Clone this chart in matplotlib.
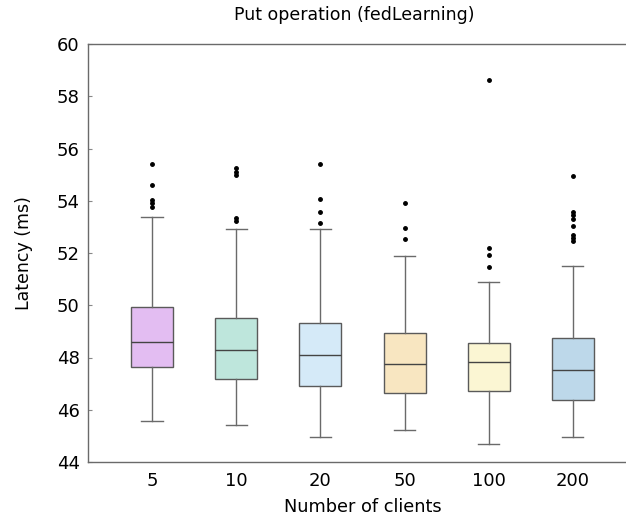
import matplotlib
matplotlib.use("Agg")
import matplotlib.pyplot as plt

categories = ["5", "10", "20", "50", "100", "200"]
q1 = [47.62, 47.16, 46.90, 46.65, 46.70, 46.36]
medians = [48.58, 48.27, 48.08, 47.74, 47.82, 47.51]
q3 = [49.92, 49.51, 49.32, 48.94, 48.56, 48.73]
whislo = [45.57, 45.40, 44.95, 45.21, 44.68, 44.97]
whishi = [53.37, 52.91, 52.91, 51.90, 50.90, 51.49]
fliers = [
    [55.39, 54.59, 54.03, 53.90, 53.77],
    [55.24, 55.11, 54.97, 53.34, 53.24],
    [55.41, 54.07, 53.56, 53.15],
    [53.93, 52.96, 52.54],
    [58.63, 52.19, 51.94, 51.46],
    [54.94, 53.58, 53.45, 53.30, 53.02, 52.68, 52.59, 52.45],
]
colors = ["#E3BDF2", "#BEE6DC", "#D5EAF8", "#F8E6C1", "#FBF6D3", "#BDD8EA"]

fig = plt.figure(figsize=(6.26, 5.17), dpi=100)
ax = fig.add_axes([88 / 626, 1 - 462 / 517, 1 - 88 / 626, (462 - 44) / 517])

stats = []
for i, c in enumerate(categories):
    stats.append(dict(label=c, q1=q1[i], med=medians[i], q3=q3[i],
                      whislo=whislo[i], whishi=whishi[i], fliers=fliers[i]))

bp = ax.bxp(stats, positions=range(len(categories)), widths=0.5,
            patch_artist=True, showfliers=True,
            boxprops=dict(edgecolor="#5a5a5a", linewidth=1.0),
            medianprops=dict(color="#444444", linewidth=1.0),
            whiskerprops=dict(color="#6a6a6a", linewidth=1.0),
            capprops=dict(color="#6a6a6a", linewidth=1.0),
            flierprops=dict(marker="o", markersize=2.5, markerfacecolor="black",
                            markeredgecolor="black", linestyle="none"))
for patch, col in zip(bp["boxes"], colors):
    patch.set_facecolor(col)

ax.set_xlim(-0.76, 5.63)
ax.set_ylim(44, 60)
ax.set_yticks([44, 46, 48, 50, 52, 54, 56, 58, 60])
ax.set_xticks(range(len(categories)))
ax.set_xticklabels(categories)

for s in ["left", "top", "bottom"]:
    ax.spines[s].set_color("#6a6a6a")
    ax.spines[s].set_linewidth(1.0)
ax.spines["right"].set_visible(False)

ax.tick_params(axis="y", direction="in", length=3, color="#888888", labelsize=13, pad=6)
ax.tick_params(axis="x", length=0, labelsize=13, pad=7)

ax.set_xlabel("Number of clients", fontsize=12.8, labelpad=6)
ax.xaxis.set_label_coords((363 - 88) / (626 - 88), -0.085)
ax.set_ylabel("Latency (ms)", fontsize=12.5, labelpad=17)
ax.set_title("Put operation (fedLearning)", fontsize=12.5, pad=17, x=(354 - 88) / (626 - 88))

fig.savefig("out.png", dpi=100)
